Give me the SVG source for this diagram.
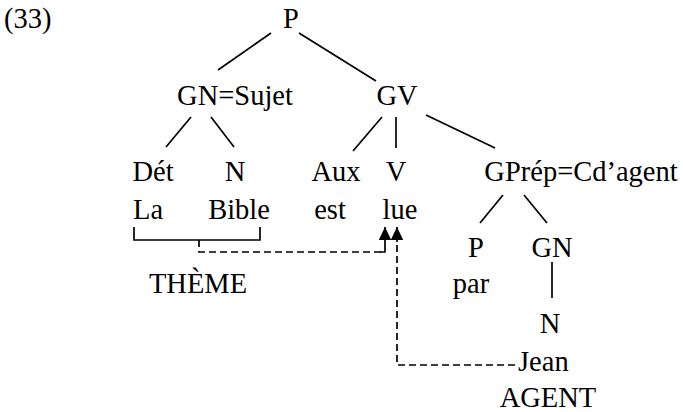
<svg xmlns="http://www.w3.org/2000/svg" width="683" height="412" viewBox="0 0 683 412" font-family="'Liberation Serif', 'Times New Roman', serif">
  <style>
    text { font-family: "Liberation Serif", "Times New Roman", serif; font-size: 28.5px; fill: #000; }
    .c { text-anchor: middle; }
    .edge { stroke: #000; stroke-width: 1.7; fill: none; }
    .dash { stroke: #000; stroke-width: 1.7; fill: none; stroke-dasharray: 7 4; }
  </style>
  <defs>
    <marker id="arrow" viewBox="0 0 13 12.5" refX="13" refY="6.25" markerWidth="13" markerHeight="12.5" markerUnits="userSpaceOnUse" orient="auto">
      <path d="M0,0 L13,6.25 L0,12.5 Z" fill="#000"/>
    </marker>
  </defs>
  <rect width="683" height="412" fill="#fff"/>

  <text x="4" y="28">(33)</text>

  <g id="connectors">
    <line class="edge" x1="271" y1="33" x2="218" y2="70"/>
    <line class="edge" x1="299" y1="33" x2="376" y2="81"/>
    <line class="edge" x1="191" y1="117" x2="166" y2="147"/>
    <line class="edge" x1="211" y1="117" x2="234" y2="147"/>
    <line class="edge" x1="382" y1="117" x2="353" y2="151"/>
    <line class="edge" x1="396" y1="117" x2="396" y2="148"/>
    <line class="edge" x1="426" y1="115" x2="495" y2="148"/>
    <line class="edge" x1="503" y1="195" x2="480" y2="223"/>
    <line class="edge" x1="524" y1="195" x2="547" y2="223"/>
    <line class="edge" x1="552" y1="262" x2="552" y2="298"/>
    <!-- bracket under "La Bible" -->
    <polyline class="edge" points="134,227 134,240 260,240 260,227"/>
    <!-- theme link to the verb -->
    <polyline class="dash" points="199,240 199,252 381,252"/>
    <path class="edge" d="M380,252 L385,252 L385,227" marker-end="url(#arrow)"/>
    <!-- agent link to the verb -->
    <polyline class="dash" points="515,365 397,365 397,245"/>
    <line class="edge" x1="397" y1="242" x2="397" y2="227" marker-end="url(#arrow)"/>
  </g>

  <g id="n-P"><text class="c" x="291" y="28">P</text></g>
  <g id="n-GN-sujet"><text class="c" x="235" y="105">GN=Sujet</text></g>
  <g id="n-GV"><text class="c" x="397" y="105">GV</text></g>
  <g id="n-Det"><text class="c" x="153" y="181">Dét</text></g>
  <g id="n-N1"><text class="c" x="235" y="181">N</text></g>
  <g id="n-Aux"><text class="c" x="336" y="181">Aux</text></g>
  <g id="n-V"><text class="c" x="396" y="181">V</text></g>
  <g id="n-GPrep"><text class="c" x="581" y="181">GPrép=Cd’agent</text></g>
  <g id="w-La"><text class="c" x="148" y="219">La</text></g>
  <g id="w-Bible"><text class="c" x="239" y="219">Bible</text></g>
  <g id="w-est"><text class="c" x="330" y="219">est</text></g>
  <g id="w-lue"><text class="c" x="400" y="219">lue</text></g>
  <g id="n-P2"><text class="c" x="476" y="257">P</text></g>
  <g id="n-GN2"><text class="c" x="552" y="257">GN</text></g>
  <g id="w-par"><text class="c" x="471" y="293">par</text></g>
  <g id="l-theme"><text class="c" x="198" y="293">THÈME</text></g>
  <g id="n-N2"><text class="c" x="550" y="333">N</text></g>
  <g id="w-Jean"><text x="518" y="371">Jean</text></g>
  <g id="l-agent"><text class="c" x="548" y="407">AGENT</text></g>
</svg>
